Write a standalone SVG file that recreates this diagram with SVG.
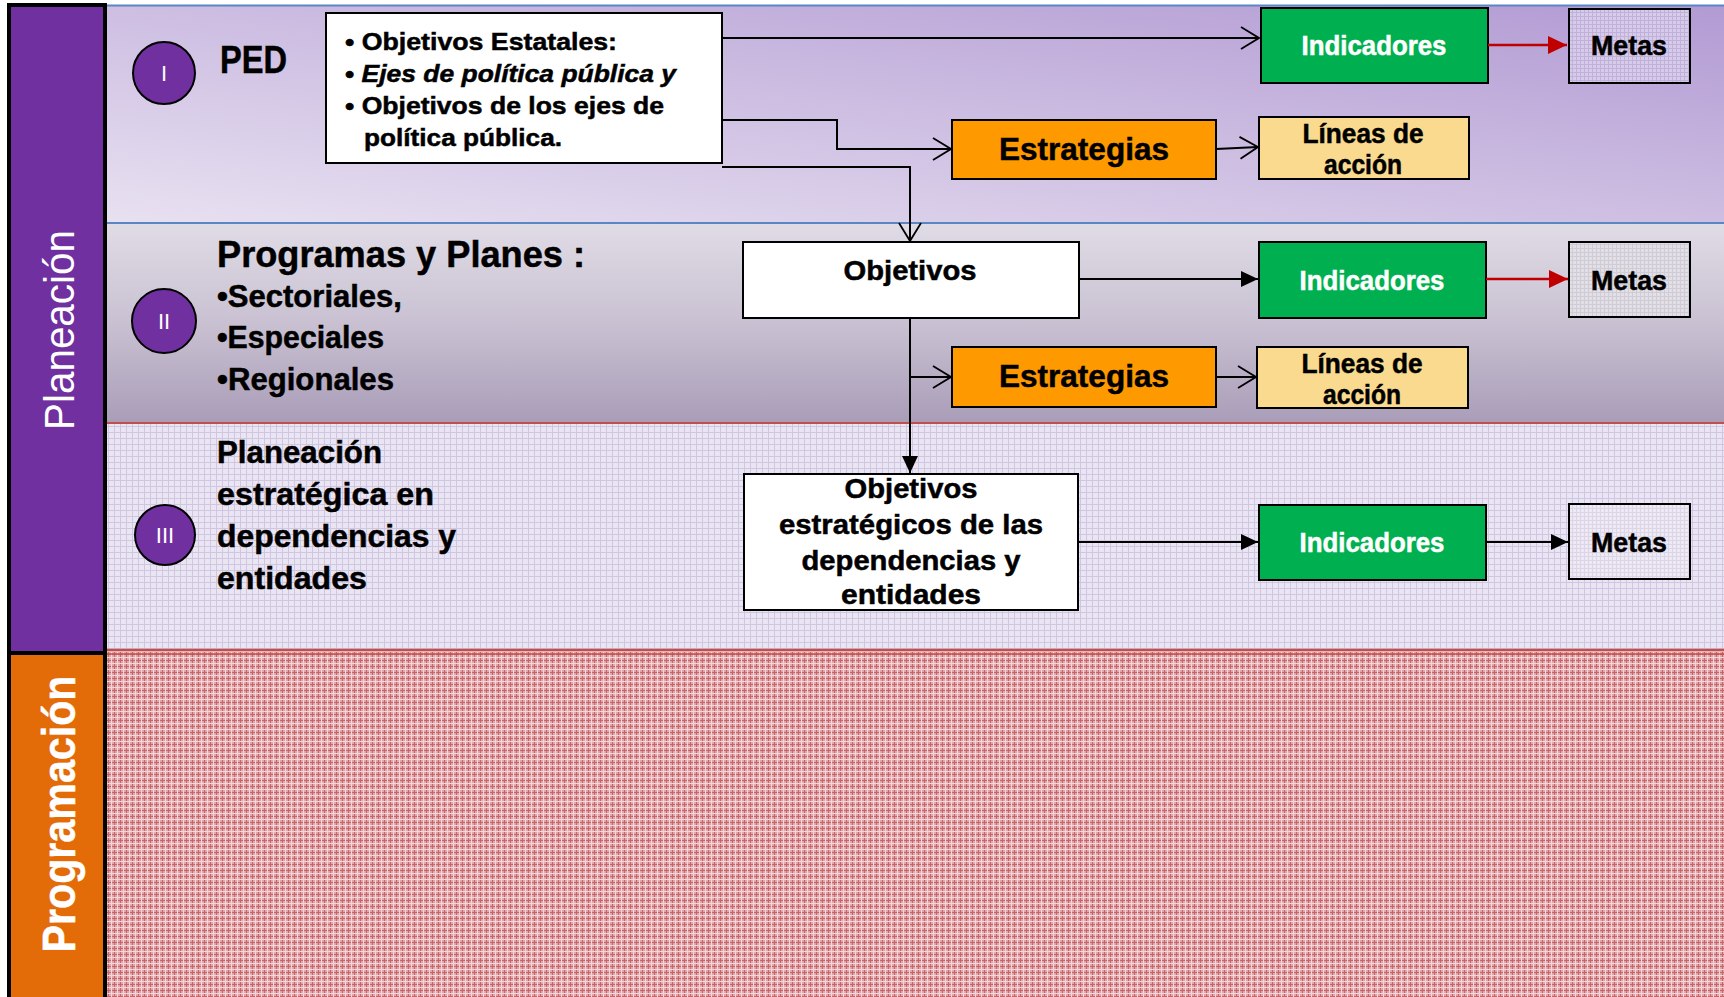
<svg xmlns="http://www.w3.org/2000/svg" width="1724" height="997" viewBox="0 0 1724 997">
<defs>
<style>
.t{font-family:"Liberation Sans",Arial,sans-serif;font-weight:bold;fill:#000;stroke:#000;stroke-width:0.5}
.w{fill:#fff;stroke:#fff}
.r{font-family:"Liberation Sans",Arial,sans-serif;font-weight:normal;fill:#fff}
.box{stroke:#000;stroke-width:2}
.c{stroke:#000;stroke-width:2;fill:none}
.cr{stroke:#C00000;stroke-width:2.5;fill:none}
.circ{fill:#7030A0;stroke:#000;stroke-width:2}
</style>
<linearGradient id="g1" x1="0" y1="1" x2="1" y2="0">
<stop offset="0" stop-color="#E8E1F1"/>
<stop offset="0.5" stop-color="#CDBEE2"/>
<stop offset="1" stop-color="#B29AD3"/>
</linearGradient>
<linearGradient id="g2" x1="0" y1="0" x2="0" y2="1">
<stop offset="0" stop-color="#E0DCE6"/>
<stop offset="0.5" stop-color="#C9C1D2"/>
<stop offset="1" stop-color="#A99DB8"/>
</linearGradient>
<pattern id="p3" width="6" height="6" patternUnits="userSpaceOnUse">
<rect width="6" height="6" fill="#EAE5F2"/>
<path d="M0 0.5H6M0.5 0V6" stroke="#D0C6E2" stroke-width="1"/>
</pattern>
<pattern id="p4" width="6" height="6" patternUnits="userSpaceOnUse">
<rect width="6" height="6" fill="#E0A6AA"/>
<path d="M0 0.5H6M0.5 0V6" stroke="#C8646A" stroke-width="1"/>
<path d="M0 3.5H6M3.5 0V6" stroke="#F2D8DA" stroke-width="1"/>
</pattern>
<pattern id="pm1" width="4" height="4" patternUnits="userSpaceOnUse">
<rect width="4" height="4" fill="#D6CBE8"/>
<path d="M0 0.5H4M0.5 0V4" stroke="#C0B0DA" stroke-width="1"/>
</pattern>
<pattern id="pm2" width="4" height="4" patternUnits="userSpaceOnUse">
<rect width="4" height="4" fill="#E2DFE6"/>
<path d="M0 0.5H4M0.5 0V4" stroke="#D0CCD6" stroke-width="1"/>
</pattern>
<pattern id="pm3" width="4" height="4" patternUnits="userSpaceOnUse">
<rect width="4" height="4" fill="#EEEAF4"/>
<path d="M0 0.5H4M0.5 0V4" stroke="#DCD5E8" stroke-width="1"/>
</pattern>
<marker id="ao" markerUnits="userSpaceOnUse" viewBox="0 0 20 24" refX="19" refY="12" markerWidth="20" markerHeight="24" orient="auto">
<path d="M1 1L19 12L1 23" fill="none" stroke="#000" stroke-width="1.8"/>
</marker>
<marker id="af" markerUnits="userSpaceOnUse" viewBox="0 0 18 18" refX="17" refY="9" markerWidth="18" markerHeight="18" orient="auto">
<path d="M0 1L17 9L0 17Z" fill="#000"/>
</marker>
<marker id="ar" markerUnits="userSpaceOnUse" viewBox="0 0 20 20" refX="19" refY="10" markerWidth="20" markerHeight="20" orient="auto">
<path d="M0 1L19 10L0 19Z" fill="#C00000"/>
</marker>
</defs>

<g id="background">
<rect x="0" y="0" width="1724" height="997" fill="#fff"/>
<rect x="106" y="5" width="1618" height="218" fill="url(#g1)"/>
<rect x="106" y="223" width="1618" height="200" fill="url(#g2)"/>
<rect x="106" y="423" width="1618" height="228" fill="url(#p3)"/>
<rect x="106" y="651" width="1618" height="346" fill="url(#p4)"/>
<path d="M106 5.5H1724M106 223H1724" stroke="#5B86C4" stroke-width="2"/>
<path d="M106 423H1724" stroke="#C0504D" stroke-width="2"/>
<path d="M106 650H1724" stroke="#C0504D" stroke-width="2.5"/>
<path d="M106 654H1724" stroke="#C0504D" stroke-width="1.5"/>
</g>

<g id="bar-planeacion">
<rect x="9" y="5" width="96" height="648" fill="#7030A0" stroke="#000" stroke-width="4"/>
<text class="r" transform="translate(74,330) rotate(-90)" text-anchor="middle" font-size="42" textLength="200" lengthAdjust="spacingAndGlyphs">Planeación</text>
</g>
<g id="bar-programacion">
<rect x="9" y="653" width="96" height="350" fill="#E36C09" stroke="#000" stroke-width="4"/>
<text class="t w" transform="translate(75,814) rotate(-90)" text-anchor="middle" font-size="47" textLength="277" lengthAdjust="spacingAndGlyphs">Programación</text>
</g>

<g id="circle-I">
<circle class="circ" cx="164" cy="73" r="31"/>
<text class="r" x="164" y="81" text-anchor="middle" font-size="22">I</text>
</g>
<g id="circle-II">
<circle class="circ" cx="164" cy="321" r="32"/>
<text class="r" x="164" y="329" text-anchor="middle" font-size="22">II</text>
</g>
<g id="circle-III">
<circle class="circ" cx="165" cy="535" r="30"/>
<text class="r" x="165" y="543" text-anchor="middle" font-size="22">III</text>
</g>

<g id="label-PED">
<text class="t" x="220" y="73" font-size="38" textLength="67" lengthAdjust="spacingAndGlyphs">PED</text>
</g>

<g id="box-PED">
<rect class="box" x="326" y="13" width="396" height="150" fill="#fff"/>
<text class="t" x="345" y="50" font-size="24" textLength="272" lengthAdjust="spacingAndGlyphs">• Objetivos Estatales:</text>
<text class="t" x="345" y="82" font-size="24" textLength="331" lengthAdjust="spacingAndGlyphs">• <tspan font-style="italic">Ejes de política pública y</tspan></text>
<text class="t" x="345" y="114" font-size="24" textLength="319" lengthAdjust="spacingAndGlyphs">• Objetivos de los ejes de</text>
<text class="t" x="364" y="146" font-size="24" textLength="198" lengthAdjust="spacingAndGlyphs">política pública.</text>
</g>

<g id="label-programas">
<text class="t" x="217" y="267" font-size="37" textLength="368" lengthAdjust="spacingAndGlyphs">Programas y Planes :</text>
<text class="t" x="217" y="307" font-size="31" textLength="185" lengthAdjust="spacingAndGlyphs">•Sectoriales,</text>
<text class="t" x="217" y="348" font-size="31" textLength="167" lengthAdjust="spacingAndGlyphs">•Especiales</text>
<text class="t" x="217" y="390" font-size="31" textLength="177" lengthAdjust="spacingAndGlyphs">•Regionales</text>
</g>

<g id="label-planeacion-estrategica">
<text class="t" x="217" y="463" font-size="31" textLength="165" lengthAdjust="spacingAndGlyphs">Planeación</text>
<text class="t" x="217" y="505" font-size="31" textLength="217" lengthAdjust="spacingAndGlyphs">estratégica en</text>
<text class="t" x="217" y="547" font-size="31" textLength="239" lengthAdjust="spacingAndGlyphs">dependencias y</text>
<text class="t" x="217" y="589" font-size="31" textLength="150" lengthAdjust="spacingAndGlyphs">entidades</text>
</g>

<g id="indicadores-1">
<rect class="box" x="1261" y="8" width="227" height="75" fill="#00B050"/>
<text class="t w" x="1374" y="55" text-anchor="middle" font-size="28" textLength="145" lengthAdjust="spacingAndGlyphs">Indicadores</text>
</g>
<g id="metas-1">
<rect class="box" x="1569" y="9" width="121" height="74" fill="url(#pm1)"/>
<text class="t" x="1629" y="55" text-anchor="middle" font-size="28" textLength="76" lengthAdjust="spacingAndGlyphs">Metas</text>
</g>
<g id="estrategias-1">
<rect class="box" x="952" y="120" width="264" height="59" fill="#FF9900"/>
<text class="t" x="1084" y="160" text-anchor="middle" font-size="32" textLength="170" lengthAdjust="spacingAndGlyphs">Estrategias</text>
</g>
<g id="lineas-1">
<rect class="box" x="1259" y="117" width="210" height="62" fill="#F9DA8E"/>
<text class="t" x="1363" y="143" text-anchor="middle" font-size="27" textLength="121" lengthAdjust="spacingAndGlyphs">Líneas de</text>
<text class="t" x="1363" y="174" text-anchor="middle" font-size="27" textLength="78" lengthAdjust="spacingAndGlyphs">acción</text>
</g>

<g id="objetivos-2">
<rect class="box" x="743" y="242" width="336" height="76" fill="#fff"/>
<text class="t" x="910" y="280" text-anchor="middle" font-size="28" textLength="133" lengthAdjust="spacingAndGlyphs">Objetivos</text>
</g>
<g id="indicadores-2">
<rect class="box" x="1259" y="242" width="227" height="76" fill="#00B050"/>
<text class="t w" x="1372" y="290" text-anchor="middle" font-size="28" textLength="145" lengthAdjust="spacingAndGlyphs">Indicadores</text>
</g>
<g id="metas-2">
<rect class="box" x="1569" y="242" width="121" height="75" fill="url(#pm2)"/>
<text class="t" x="1629" y="290" text-anchor="middle" font-size="28" textLength="76" lengthAdjust="spacingAndGlyphs">Metas</text>
</g>
<g id="estrategias-2">
<rect class="box" x="952" y="347" width="264" height="60" fill="#FF9900"/>
<text class="t" x="1084" y="387" text-anchor="middle" font-size="32" textLength="170" lengthAdjust="spacingAndGlyphs">Estrategias</text>
</g>
<g id="lineas-2">
<rect class="box" x="1257" y="347" width="211" height="61" fill="#F9DA8E"/>
<text class="t" x="1362" y="373" text-anchor="middle" font-size="27" textLength="121" lengthAdjust="spacingAndGlyphs">Líneas de</text>
<text class="t" x="1362" y="404" text-anchor="middle" font-size="27" textLength="78" lengthAdjust="spacingAndGlyphs">acción</text>
</g>

<g id="objetivos-3">
<rect class="box" x="744" y="474" width="334" height="136" fill="#fff"/>
<text class="t" x="911" y="498" text-anchor="middle" font-size="28" textLength="133" lengthAdjust="spacingAndGlyphs">Objetivos</text>
<text class="t" x="911" y="534" text-anchor="middle" font-size="28" textLength="264" lengthAdjust="spacingAndGlyphs">estratégicos de las</text>
<text class="t" x="911" y="570" text-anchor="middle" font-size="28" textLength="219" lengthAdjust="spacingAndGlyphs">dependencias y</text>
<text class="t" x="911" y="604" text-anchor="middle" font-size="28" textLength="140" lengthAdjust="spacingAndGlyphs">entidades</text>
</g>
<g id="indicadores-3">
<rect class="box" x="1259" y="505" width="227" height="75" fill="#00B050"/>
<text class="t w" x="1372" y="552" text-anchor="middle" font-size="28" textLength="145" lengthAdjust="spacingAndGlyphs">Indicadores</text>
</g>
<g id="metas-3">
<rect class="box" x="1569" y="504" width="121" height="75" fill="url(#pm3)"/>
<text class="t" x="1629" y="552" text-anchor="middle" font-size="28" textLength="76" lengthAdjust="spacingAndGlyphs">Metas</text>
</g>

<g id="connectors">
<path class="c" d="M722 38H1259" marker-end="url(#ao)"/>
<path class="cr" d="M1488 45H1567" marker-end="url(#ar)"/>
<path class="c" d="M722 120H837V149H951" marker-end="url(#ao)"/>
<path class="c" d="M1216 149L1258 147" marker-end="url(#ao)"/>
<path class="c" d="M722 167H910V241" marker-end="url(#ao)"/>
<path class="c" d="M1079 279H1258" marker-end="url(#af)"/>
<path class="cr" d="M1486 279H1568" marker-end="url(#ar)"/>
<path class="c" d="M910 318V473" marker-end="url(#af)"/>
<path class="c" d="M910 377H951" marker-end="url(#ao)"/>
<path class="c" d="M1216 377H1256" marker-end="url(#ao)"/>
<path class="c" d="M1078 542H1258" marker-end="url(#af)"/>
<path class="c" d="M1486 542H1568" marker-end="url(#af)"/>
</g>
</svg>
